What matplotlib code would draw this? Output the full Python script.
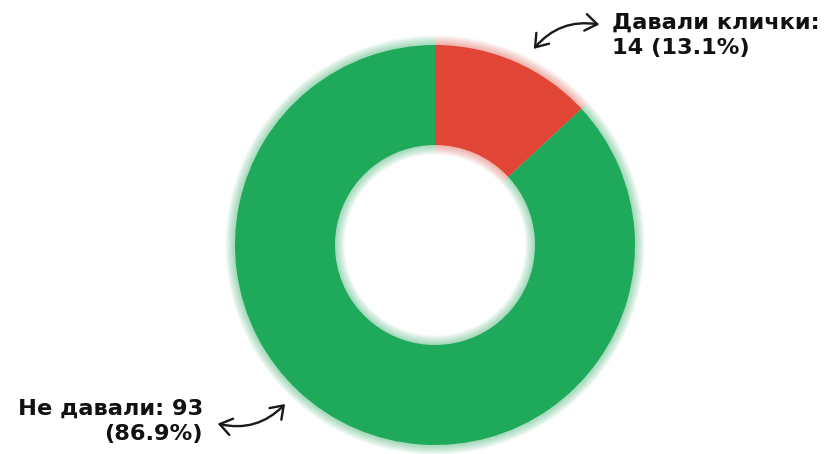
import matplotlib
matplotlib.use("Agg")
import matplotlib.pyplot as plt
from matplotlib.patches import FancyArrowPatch

# Survey answers: did they give nicknames?
labels = ["Давали клички", "Не давали"]
counts = [14, 93]
colors = ["#e04535", "#1fa95a"]

W, H = 835, 454
fig = plt.figure(figsize=(W / 100, H / 100), dpi=100)
ax = fig.add_axes([0, 0, 1, 1])

center = (435, H - 245)
R_OUT, RING = 200, 100

# soft halo around the ring
for k in range(12, 0, -1):
    ax.pie(counts, colors=colors, startangle=90, counterclock=False,
           radius=R_OUT + k * 0.8, center=center, frame=True,
           wedgeprops=dict(width=RING + k * 1.6, linewidth=0, alpha=0.04))

ax.pie(counts, colors=colors, startangle=90, counterclock=False,
       radius=R_OUT, center=center, frame=True,
       wedgeprops=dict(width=RING, linewidth=0))

ax.set_xlim(0, W)
ax.set_ylim(0, H)
ax.set_aspect("equal")
ax.axis("off")

total = sum(counts)
pct = [c / total * 100 for c in counts]
font = dict(family="DejaVu Sans", fontweight="bold", fontsize=16.2, color="#111111")

ax.text(612, H - 13, f"{labels[0]}:\n{counts[0]} ({pct[0]:.1f}%)",
        ha="left", va="top", linespacing=1.32, **font)
ax.text(203, H - 399, f"{labels[1]}: {counts[1]}\n({pct[1]:.1f}%)",
        ha="right", va="top", multialignment="right", linespacing=1.32, **font)

arrow_kw = dict(arrowstyle="<->,head_length=8.5,head_width=6", color="#1a1a1a",
                lw=1.7, mutation_scale=1.0)
ax.add_patch(FancyArrowPatch((532, H - 51), (602, H - 25),
                             connectionstyle="arc3,rad=-0.3", **arrow_kw))
ax.add_patch(FancyArrowPatch((215, H - 423), (287, H - 402),
                             connectionstyle="arc3,rad=0.3", **arrow_kw))

fig.savefig("out.png", dpi=100, facecolor="white")
